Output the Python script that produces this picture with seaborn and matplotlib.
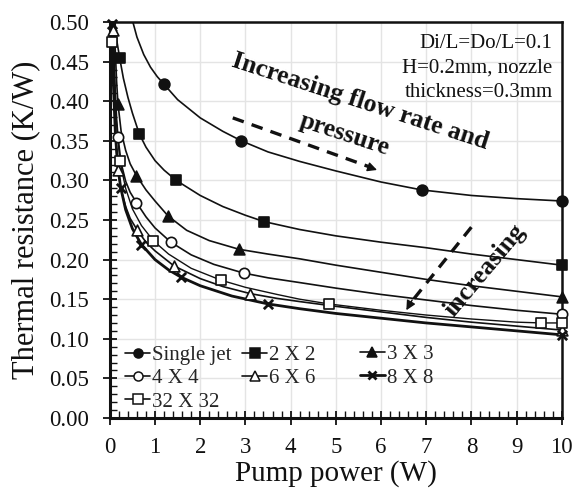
import numpy as np
import pandas as pd
import matplotlib
matplotlib.use("Agg")
import matplotlib.pyplot as plt
from matplotlib.ticker import MultipleLocator, FormatStrFormatter
from matplotlib.lines import Line2D
import seaborn as sns

# ---------------- data ----------------
# smooth-curve readings (pump power W, thermal resistance K/W)
single_cx = [0.42, 0.51, 0.60, 0.75, 0.90, 1.05, 1.19, 1.50, 2.00, 2.50, 2.91, 3.50, 4.20, 5.00, 6.00, 6.90, 8.00, 9.00, 10.0]
single_cy = [0.530, 0.500, 0.481, 0.459, 0.443, 0.431, 0.422, 0.402, 0.379, 0.362, 0.350, 0.336, 0.324, 0.312, 0.298, 0.288, 0.281, 0.277, 0.274]
single_mx = [1.19, 2.91, 6.90, 10.0]
single_my = [0.422, 0.350, 0.288, 0.274]

j2_cx = [0.09, 0.11, 0.15, 0.22, 0.30, 0.40, 0.50, 0.65, 0.80, 1.00, 1.20, 1.47, 2.00, 2.50, 3.00, 3.41, 4.20, 5.00, 6.00, 7.00, 8.00, 9.00, 10.0]
j2_cy = [0.530, 0.502, 0.478, 0.454, 0.429, 0.405, 0.385, 0.359, 0.342, 0.325, 0.313, 0.300, 0.281, 0.267, 0.256, 0.248, 0.238, 0.230, 0.222, 0.215, 0.207, 0.200, 0.193]
j2_mx = [0.22, 0.65, 1.47, 3.41, 10.0]
j2_my = [0.454, 0.359, 0.300, 0.248, 0.193]

j3_cx = [0.08, 0.10, 0.12, 0.15, 0.18, 0.25, 0.35, 0.45, 0.59, 0.80, 1.00, 1.29, 1.70, 2.20, 2.86, 3.50, 4.20, 5.00, 6.00, 7.00, 8.00, 9.00, 10.0]
j3_cy = [0.530, 0.500, 0.465, 0.425, 0.397, 0.362, 0.338, 0.321, 0.306, 0.288, 0.274, 0.255, 0.237, 0.224, 0.213, 0.207, 0.201, 0.193, 0.184, 0.175, 0.167, 0.160, 0.153]
j3_mx = [0.18, 0.59, 1.29, 2.86, 10.0]
j3_my = [0.397, 0.306, 0.255, 0.213, 0.153]

j4_cx = [0.07, 0.08, 0.10, 0.12, 0.15, 0.18, 0.25, 0.35, 0.45, 0.59, 0.80, 1.00, 1.35, 1.80, 2.30, 2.96, 3.50, 4.20, 5.00, 6.00, 7.00, 8.00, 9.00, 10.0]
j4_cy = [0.530, 0.505, 0.450, 0.414, 0.378, 0.355, 0.322, 0.299, 0.285, 0.272, 0.254, 0.240, 0.222, 0.206, 0.194, 0.183, 0.177, 0.171, 0.164, 0.156, 0.149, 0.142, 0.136, 0.131]
j4_mx = [0.18, 0.59, 1.35, 2.96, 10.0]
j4_my = [0.355, 0.272, 0.222, 0.183, 0.131]

j6_cx = [0.06, 0.09, 0.12, 0.15, 0.18, 0.25, 0.35, 0.45, 0.61, 0.80, 1.00, 1.42, 2.00, 2.50, 3.11, 3.70, 4.20, 5.00, 6.00, 7.00, 8.00, 9.00, 10.0]
j6_cy = [0.490, 0.420, 0.370, 0.337, 0.313, 0.288, 0.267, 0.252, 0.237, 0.222, 0.211, 0.192, 0.176, 0.166, 0.157, 0.151, 0.147, 0.141, 0.134, 0.127, 0.121, 0.116, 0.111]
j6_mx = [0.06, 0.18, 0.61, 1.42, 3.11, 10.0]
j6_my = [0.490, 0.313, 0.237, 0.192, 0.157, 0.111]

j8_cx = [0.05, 0.08, 0.12, 0.17, 0.24, 0.35, 0.50, 0.70, 1.00, 1.30, 1.57, 2.00, 2.70, 3.50, 4.20, 5.00, 6.00, 7.00, 8.00, 9.00, 10.0]
j8_cy = [0.498, 0.420, 0.362, 0.320, 0.291, 0.263, 0.239, 0.219, 0.200, 0.187, 0.178, 0.167, 0.154, 0.144, 0.138, 0.132, 0.126, 0.120, 0.115, 0.110, 0.105]
j8_mx = [0.05, 0.24, 0.70, 1.57, 3.50, 10.0]
j8_my = [0.498, 0.291, 0.219, 0.178, 0.144, 0.105]

j32_cx = [0.04, 0.08, 0.13, 0.22, 0.35, 0.50, 0.70, 0.96, 1.30, 1.80, 2.46, 3.00, 3.70, 4.20, 4.85, 6.00, 7.00, 8.00, 9.00, 9.55, 10.0]
j32_cy = [0.475, 0.435, 0.385, 0.325, 0.290, 0.264, 0.243, 0.224, 0.207, 0.189, 0.174, 0.165, 0.156, 0.150, 0.144, 0.136, 0.130, 0.125, 0.121, 0.120, 0.120]
j32_mx = [0.04, 0.22, 0.96, 2.46, 4.85, 9.55, 10.0]
j32_my = [0.475, 0.325, 0.224, 0.174, 0.144, 0.120, 0.120]

labels = ["Single jet", "2 X 2", "3 X 3", "4 X 4", "6 X 6", "8 X 8", "32 X 32"]
x_ticks = list(range(0, 11))
y_ticks = [0.00, 0.05, 0.10, 0.15, 0.20, 0.25, 0.30, 0.35, 0.40, 0.45, 0.50]

# ---------------- styling ----------------
sns.set_theme(style="whitegrid")
plt.rcParams["font.family"] = ["Liberation Serif", "DejaVu Serif"]

K = "#111111"
series = [
    (single_cx, single_cy, single_mx, single_my, "o", K, 1.2, 60),
    (j2_cx, j2_cy, j2_mx, j2_my, "s", K, 1.2, 50),
    (j3_cx, j3_cy, j3_mx, j3_my, "^", K, 1.2, 60),
    (j4_cx, j4_cy, j4_mx, j4_my, "o", "white", 1.2, 55),
    (j6_cx, j6_cy, j6_mx, j6_my, "^", "white", 1.2, 60),
    (j8_cx, j8_cy, j8_mx, j8_my, "x", K, 2.0, 45),
    (j32_cx, j32_cy, j32_mx, j32_my, "s", "white", 1.0, 55),
]

fig = plt.figure(figsize=(5.75, 4.9), dpi=100)
ax = fig.add_axes([0.191, 0.147, 0.786, 0.808])

for cx, cy, mx, my, mk, fc, lw, s in series:
    sns.lineplot(x=cx, y=cy, sort=False, estimator=None, color=K, linewidth=lw, ax=ax, zorder=3)
    if mk == "x":
        sns.scatterplot(x=mx, y=my, marker="x", s=s, color=K, linewidth=2.0, ax=ax, zorder=4, clip_on=False)
    else:
        sns.scatterplot(x=mx, y=my, marker=mk, s=s, facecolor=fc, edgecolor=K, linewidth=1.2, ax=ax, zorder=4, clip_on=False)

ax.set_xlim(0, 10)
ax.set_ylim(0, 0.5)
ax.set_xticks(x_ticks)
ax.set_yticks(y_ticks)
ax.yaxis.set_major_formatter(FormatStrFormatter("%.2f"))
ax.xaxis.set_minor_locator(MultipleLocator(0.2))
ax.yaxis.set_minor_locator(MultipleLocator(0.01))
ax.grid(True, which="major", color="#e4e4e4", linewidth=1.0)
ax.grid(False, which="minor")
ax.set_axisbelow(True)
for sp in ax.spines.values():
    sp.set_visible(True)
    sp.set_color(K)
    sp.set_linewidth(1.8)
ax.spines["left"].set_linewidth(2.2)
ax.spines["bottom"].set_linewidth(2.2)

ax.tick_params(axis="both", which="major", direction="inout", length=10, width=1.3,
               color=K, labelsize=16.5, labelcolor=K, bottom=True, left=True)
ax.tick_params(axis="both", which="minor", direction="in", length=5, width=1.0,
               color=K, bottom=True, left=True)
ax.tick_params(axis="x", which="major", pad=9)
ax.tick_params(axis="y", which="major", pad=10)

ax.set_xlabel("Pump power (W)", fontsize=21, color=K, labelpad=1)
ax.set_ylabel("Thermal resistance (K/W)", fontsize=22, color=K, labelpad=6)

# legend (two blocks to mimic layout)
def h(mk, fc):
    if mk == "x":
        return Line2D([], [], color=K, lw=2.0, marker="x", markersize=6, markeredgewidth=2.0)
    return Line2D([], [], color=K, lw=1.2, marker=mk, markersize=6.5,
                  markerfacecolor=fc, markeredgecolor=K, markeredgewidth=1.1)

hs = [h(s[4], s[5]) for s in series]
order1 = [0, 3, 6, 1, 4]
leg1 = ax.legend([hs[i] for i in order1], [labels[i] for i in order1], ncol=2,
                 loc="lower left", bbox_to_anchor=(0.011, -0.01), frameon=False,
                 fontsize=15, handlelength=1.2, handletextpad=0.1, columnspacing=0.5,
                 labelspacing=0.18, borderpad=0.3, borderaxespad=0.2)
ax.add_artist(leg1)
order2 = [2, 5]
leg2 = ax.legend([hs[i] for i in order2], [labels[i] for i in order2], ncol=1,
                 loc="lower left", bbox_to_anchor=(0.53, 0.05), frameon=False,
                 fontsize=15, handlelength=1.2, handletextpad=0.1,
                 labelspacing=0.18, borderpad=0.3, borderaxespad=0.2)

# annotations
ax.text(9.8, 0.485, "Di/L=Do/L=0.1\nH=0.2mm, nozzle\nthickness=0.3mm", ha="right", va="top",
        fontsize=15, color=K, linespacing=1.4, zorder=6)

ax.text(5.55, 0.399, "Increasing flow rate and", rotation=-18, rotation_mode="anchor",
        ha="center", va="center", fontsize=18.5, fontweight="bold", color=K, zorder=6)
ax.text(5.2, 0.358, "pressure", rotation=-18, rotation_mode="anchor",
        ha="center", va="center", fontsize=18.5, fontweight="bold", color=K, zorder=6)

ax.plot([2.72, 5.80], [0.379, 0.316], color=K, lw=2.4, dashes=(3.5, 2.5), zorder=5)
ax.annotate("", xy=(5.97, 0.312), xytext=(5.70, 0.3175),
            arrowprops=dict(arrowstyle="-|>", color=K, lw=1.0, mutation_scale=14), zorder=5)

ax.plot([8.0, 6.65], [0.241, 0.145], color=K, lw=2.4, dashes=(3.5, 2.5), zorder=5)
ax.annotate("", xy=(6.53, 0.133), xytext=(6.72, 0.152),
            arrowprops=dict(arrowstyle="-|>", color=K, lw=1.0, mutation_scale=14), zorder=5)

ax.text(8.3, 0.187, "increasing", rotation=50, rotation_mode="anchor",
        ha="center", va="center", fontsize=18.5, fontweight="bold", color=K, zorder=6)

fig.savefig("out.png", dpi=100)
